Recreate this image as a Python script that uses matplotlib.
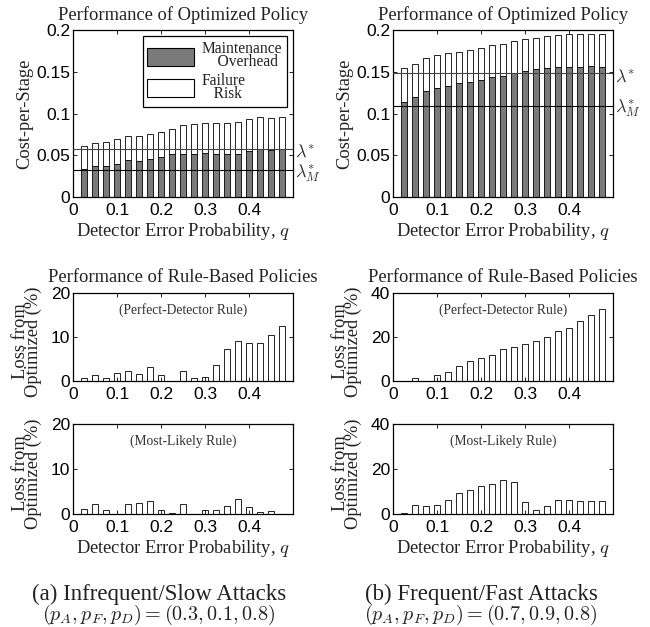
import matplotlib
matplotlib.use("Agg")
import matplotlib.pyplot as plt
from matplotlib.patches import Patch
import numpy as np

plt.rcParams['mathtext.fontset'] = 'cm'

# detector error probability q for every bar
q = [0.025, 0.05, 0.075, 0.1, 0.125, 0.15, 0.175, 0.2, 0.225, 0.25,
     0.275, 0.3, 0.325, 0.35, 0.375, 0.4, 0.425, 0.45, 0.475]

# (a) infrequent/slow attacks
total_a = [0.061, 0.065, 0.066, 0.069, 0.073, 0.073, 0.075, 0.078, 0.082, 0.086,
           0.087, 0.089, 0.089, 0.089, 0.090, 0.093, 0.096, 0.095, 0.096]
maint_a = [0.034, 0.037, 0.037, 0.039, 0.044, 0.043, 0.045, 0.048, 0.052, 0.051,
           0.052, 0.053, 0.052, 0.051, 0.052, 0.055, 0.058, 0.056, 0.057]
lam_a, lamM_a = 0.058, 0.032
perfect_a = [0.7, 1.4, 0.6, 1.9, 2.3, 1.7, 3.2, 1.3, 0.1, 2.3,
             0.6, 0.8, 3.7, 7.2, 9.2, 8.6, 8.7, 10.5, 12.5]
likely_a = [1.1, 2.2, 0.9, 0.05, 2.3, 2.4, 2.9, 1.0, 0.3, 2.3,
            0.1, 1.0, 1.0, 1.8, 3.4, 1.6, 0.4, 0.6, 0.1]

# (b) frequent/fast attacks
total_b = [0.154, 0.159, 0.166, 0.170, 0.172, 0.174, 0.176, 0.179, 0.182, 0.183,
           0.187, 0.189, 0.191, 0.193, 0.194, 0.195, 0.195, 0.195, 0.195]
maint_b = [0.114, 0.120, 0.127, 0.131, 0.133, 0.136, 0.138, 0.140, 0.144, 0.145,
           0.149, 0.151, 0.153, 0.154, 0.156, 0.156, 0.156, 0.157, 0.156]
lam_b, lamM_b = 0.148, 0.109
perfect_b = [0.2, 1.2, 0.2, 2.6, 3.9, 6.6, 9.0, 10.5, 11.8, 14.5,
             15.5, 16.8, 18.3, 20.1, 22.6, 24.2, 27.3, 29.8, 32.7]
likely_b = [0.3, 4.0, 3.4, 4.2, 6.4, 9.3, 10.6, 12.5, 13.3, 15.3,
            14.4, 5.3, 1.6, 3.4, 6.1, 6.2, 5.9, 5.8, 6.0]

W, H = 650, 627
serif = 'Liberation Serif'
sans = 'Liberation Sans'
grey = '#7a7a7a'
ink = '#222222'
bw = 0.015
fs_lab = 13.3
fs_tick = 12.5

fig = plt.figure(figsize=(W / 100, H / 100), dpi=100)


def box(x0, y0, x1, y1):
    return fig.add_axes([x0 / W, 1 - y1 / H, (x1 - x0) / W, (y1 - y0) / H])


def style(ax, ylim, yticks, yfmt):
    ax.set_xlim(0, 0.5)
    ax.set_ylim(*ylim)
    ax.set_xticks([0, 0.1, 0.2, 0.3, 0.4])
    ax.set_xticklabels(['0', '0.1', '0.2', '0.3', '0.4'])
    ax.set_yticks(yticks)
    ax.set_yticklabels(yfmt)
    ax.tick_params(direction='in', top=True, right=True, length=3, width=0.6,
                   labelsize=fs_tick)
    ax.tick_params(axis='x', pad=4.5)
    ax.tick_params(axis='y', pad=2)
    for lab in ax.get_xticklabels() + ax.get_yticklabels():
        lab.set_fontfamily(sans)
    for s in ax.spines.values():
        s.set_linewidth(0.9)


def top_panel(x0, total, maint, lam, lamM, legend):
    ax = box(x0, 30, x0 + 220, 197)
    risk = np.array(total) - np.array(maint)
    ax.bar(q, maint, width=bw, color=grey, edgecolor='black', linewidth=0.6, zorder=2)
    ax.bar(q, risk, width=bw, bottom=maint, color='white', edgecolor='black',
           linewidth=0.6, zorder=2)
    ax.axhline(lam, color='#444444', linewidth=0.8, zorder=3)
    ax.axhline(lamM, color='black', linewidth=0.8, zorder=3)
    tr = ax.get_yaxis_transform()
    ax.text(1.01, lam - 0.004, r'$\lambda^{*}$', transform=tr, fontsize=13,
            va='center', ha='left', color='#333333')
    ax.text(1.01, lamM - 0.003, r'$\lambda_M^{*}$', transform=tr, fontsize=13,
            va='center', ha='left', color='#333333')
    style(ax, (0, 0.2), [0, 0.05, 0.1, 0.15, 0.2], ['0', '0.05', '0.1', '0.15', '0.2'])
    ax.set_title('Performance of Optimized Policy', fontfamily=serif, fontsize=fs_lab,
                 pad=7, color=ink)
    ax.set_ylabel('Cost-per-Stage', fontfamily=serif, fontsize=fs_lab, labelpad=2,
                  color=ink)
    ax.set_xlabel('Detector Error Probability, $q$', fontfamily=serif, fontsize=fs_lab,
                  labelpad=2, color=ink)
    if legend:
        handles = [Patch(facecolor=grey, edgecolor='black', linewidth=0.8),
                   Patch(facecolor='white', edgecolor='black', linewidth=0.8)]
        leg = ax.legend(handles, ['Maintenance\n    Overhead', 'Failure\n   Risk'],
                        loc='upper right', prop={'family': serif, 'size': 11.2},
                        handlelength=3.0, handleheight=1.4, fancybox=False,
                        edgecolor='black', framealpha=1, borderaxespad=0.4,
                        labelspacing=0.15, handletextpad=0.5, borderpad=0.3)
        leg.get_frame().set_linewidth(0.9)
        for t in leg.get_texts():
            t.set_linespacing(0.8)
            t.set_color(ink)


def loss_panel(x0, y0, y1, vals, ymax, label, title):
    ax = box(x0, y0, x0 + 220, y1)
    ax.bar(q, vals, width=bw, color='white', edgecolor='black', linewidth=0.6)
    style(ax, (0, ymax), [0, ymax / 2, ymax], ['0', str(ymax // 2), str(ymax)])
    ax.text(0.5, 0.81, label, transform=ax.transAxes, ha='center', va='center',
            fontfamily=serif, fontsize=9.8, color='#333333')
    ax.set_ylabel('Loss from\nOptimized (%)', fontfamily=serif, fontsize=fs_lab,
                  linespacing=0.7, color=ink)
    ax.yaxis.set_label_coords(-0.14, 0.45)
    if title:
        ax.set_title('Performance of Rule-Based Policies', fontfamily=serif,
                     fontsize=fs_lab, pad=8, color=ink)
    else:
        ax.set_xlabel('Detector Error Probability, $q$', fontfamily=serif,
                      fontsize=fs_lab, labelpad=2, color=ink)
    return ax


top_panel(73, total_a, maint_a, lam_a, lamM_a, True)
top_panel(393, total_b, maint_b, lam_b, lamM_b, False)

loss_panel(73, 293, 381, perfect_a, 20, '(Perfect-Detector Rule)', True)
loss_panel(393, 293, 381, perfect_b, 40, '(Perfect-Detector Rule)', True)
loss_panel(73, 424, 514, likely_a, 20, '(Most-Likely Rule)', False)
loss_panel(393, 424, 514, likely_b, 40, '(Most-Likely Rule)', False)

captions = [(159, '(a) Infrequent/Slow Attacks', r'$(p_A, p_F, p_D) = (0.3, 0.1, 0.8)$'),
            (481, '(b) Frequent/Fast Attacks', r'$(p_A, p_F, p_D) = (0.7, 0.9, 0.8)$')]
for cx, line1, line2 in captions:
    fig.text(cx / W, 1 - 594 / H, line1, ha='center', va='center',
             fontfamily=serif, fontsize=16.5, color=ink)
    fig.text(cx / W, 1 - 615 / H, line2, ha='center', va='center', fontsize=14.5,
             color=ink)

fig.savefig('out.png', dpi=100)
